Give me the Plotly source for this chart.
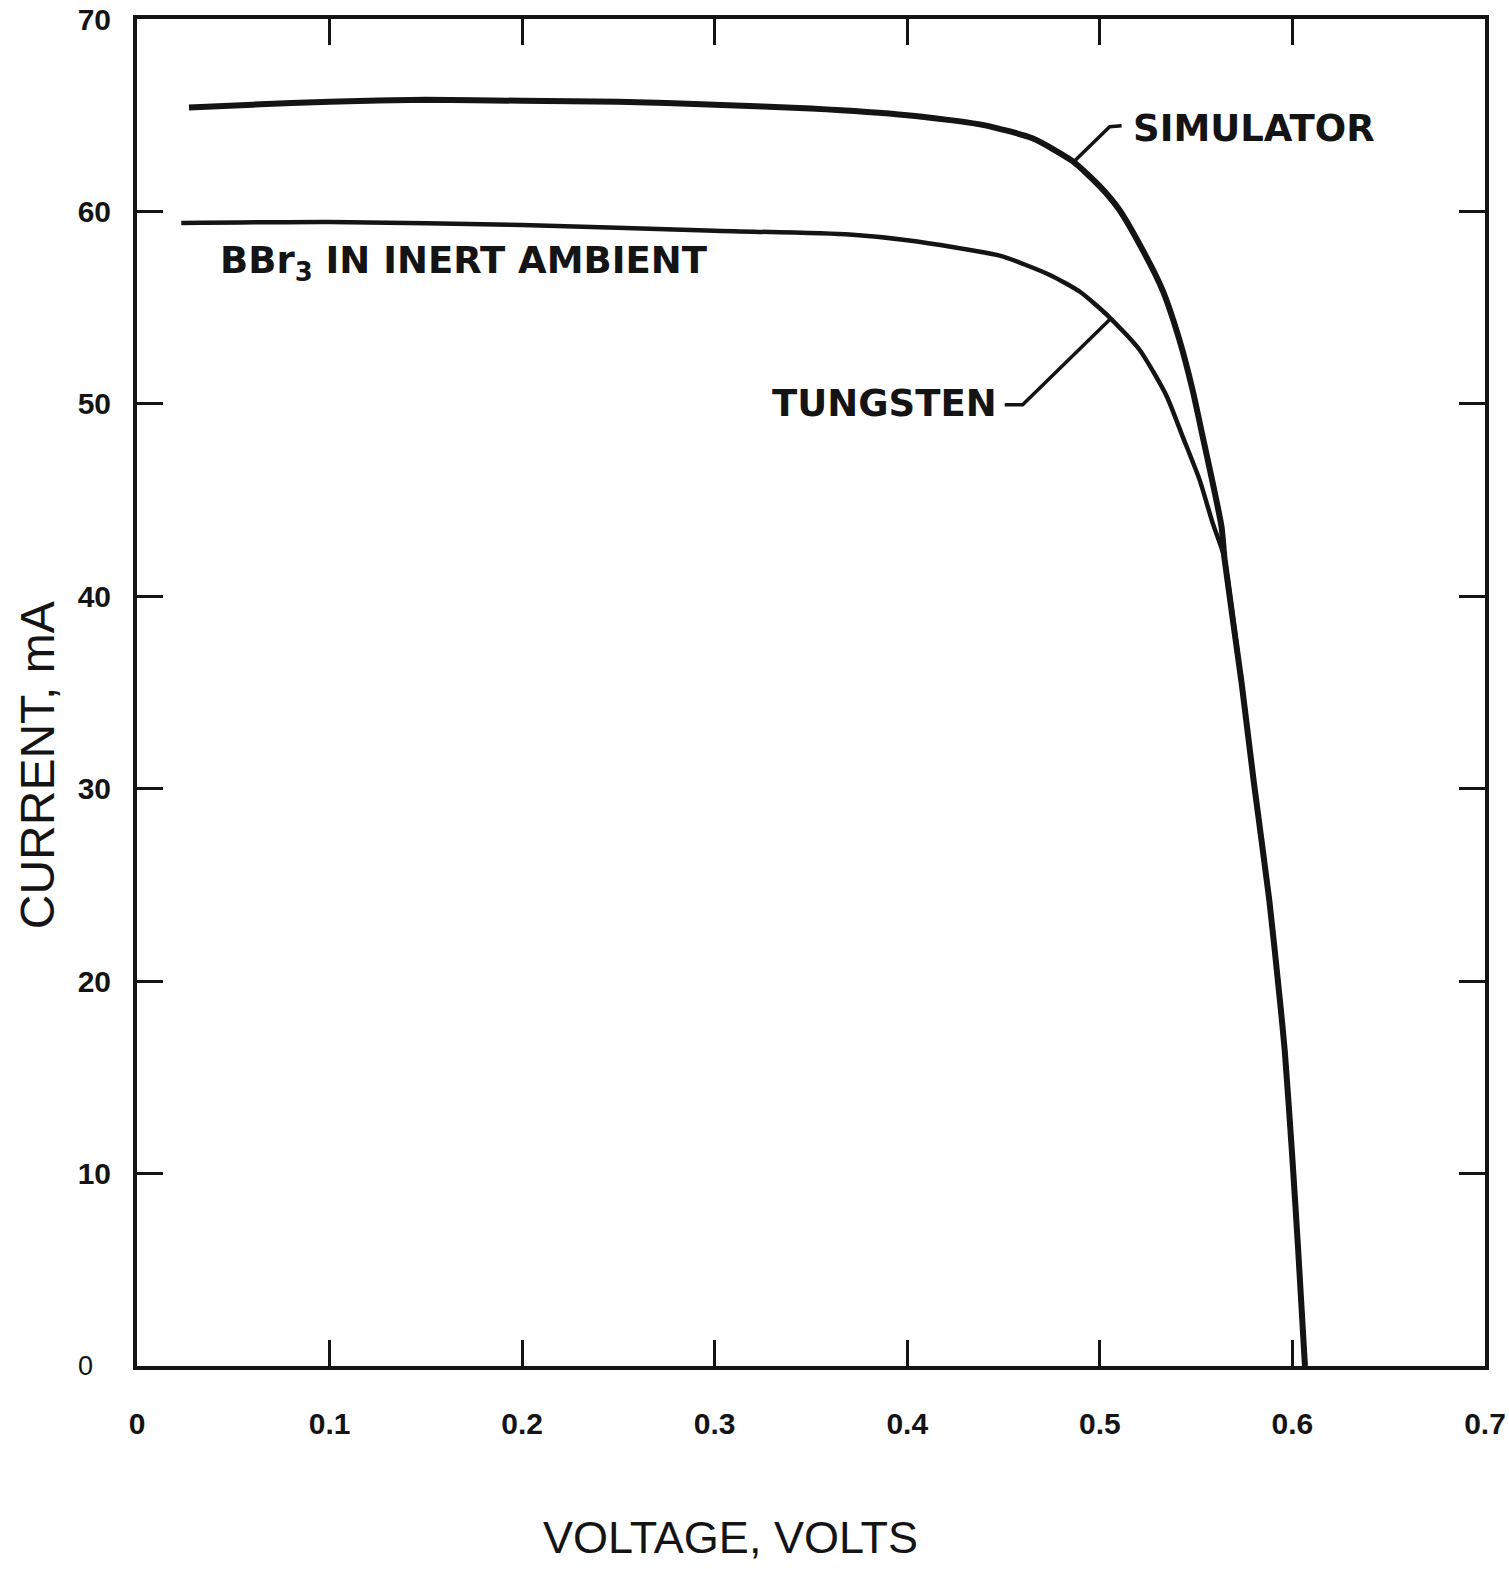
import plotly.graph_objects as go

# ---- data ----
sim_v = [0.027, 0.06, 0.1, 0.15, 0.2, 0.25, 0.3, 0.35, 0.4, 0.439, 0.465, 0.486, 0.5, 0.51,
         0.5222, 0.5326, 0.5414, 0.5482, 0.5534, 0.5586, 0.5632, 0.5648]
sim_i = [65.4, 65.55, 65.7, 65.8, 65.75, 65.7, 65.55, 65.35, 65.0, 64.5, 63.8, 62.6, 61.3, 60.1,
         58.0, 55.9, 53.3, 50.7, 48.3, 45.9, 43.6, 41.9]

tun_v = [0.023, 0.1, 0.2, 0.3, 0.37, 0.4, 0.448, 0.474, 0.49, 0.505, 0.5207, 0.5347, 0.543,
         0.5518, 0.5586, 0.5632, 0.5648]
tun_i = [59.4, 59.45, 59.3, 59.0, 58.8, 58.5, 57.7, 56.7, 55.8, 54.5, 52.8, 50.4, 48.3,
         46.05, 43.8, 42.5, 41.9]

# common lower part where both curves coincide
tail_v = [0.5736, 0.580, 0.588, 0.5935, 0.596, 0.5997, 0.603, 0.6065]
tail_i = [35.5, 30.3, 24.2, 19.0, 16.4, 11.2, 6.0, 0.0]

x_ticks = [0, 0.1, 0.2, 0.3, 0.4, 0.5, 0.6, 0.7]
x_labels = ["0", "0.1", "0.2", "0.3", "0.4", "0.5", "0.6", "0.7"]
y_ticks = [10, 20, 30, 40, 50, 60, 70]
y_labels = ["10", "20", "30", "40", "50", "60", "70"]

# leader lines (annotation pointers), in data units
sim_leader_v = [0.4859, 0.5051, 0.5113]
sim_leader_i = [62.53, 64.40, 64.45]
tun_leader_v = [0.5061, 0.4599, 0.4506]
tun_leader_i = [54.47, 49.95, 49.95]

INK = "#141414"
FAM = "Liberation Sans, Arial, sans-serif"
LBL = dict(family="DejaVu Sans, sans-serif", size=37, color=INK, weight="bold")
TICKF = dict(family=FAM, size=30, color=INK, weight="bold")

fig = go.Figure()
fig.add_trace(go.Scatter(x=sim_v + tail_v, y=sim_i + tail_i, mode="lines", name="SIMULATOR",
                         line=dict(color=INK, width=6, shape="spline", smoothing=0.6)))
fig.add_trace(go.Scatter(x=tun_v + tail_v, y=tun_i + tail_i, mode="lines", name="TUNGSTEN",
                         line=dict(color=INK, width=4.5, shape="spline", smoothing=0.6)))
fig.add_trace(go.Scatter(x=sim_leader_v, y=sim_leader_i, mode="lines", showlegend=False,
                         hoverinfo="skip", line=dict(color=INK, width=3.5)))
fig.add_trace(go.Scatter(x=tun_leader_v, y=tun_leader_i, mode="lines", showlegend=False,
                         hoverinfo="skip", line=dict(color=INK, width=3.5)))

fig.add_annotation(x=0.516, y=64.29, xref="x", yref="y", text="SIMULATOR", showarrow=False,
                   xanchor="left", yanchor="middle", font=LBL)
fig.add_annotation(x=0.4475, y=50.0, xref="x", yref="y", text="TUNGSTEN", showarrow=False,
                   xanchor="right", yanchor="middle", font=LBL)
fig.add_annotation(x=0.042, y=57.3, xref="x", yref="y", text="BBr<sub>3</sub> IN INERT AMBIENT",
                   showarrow=False, xanchor="left", yanchor="middle", font=LBL)
# y-axis zero label (drawn offset like the original)
fig.add_annotation(x=0, y=0, xref="paper", yref="y", text="0", showarrow=False,
                   xanchor="center", yanchor="middle", xshift=-52,
                   font=dict(family=FAM, size=27, color=INK))

# axis titles (placed off-centre as in the original)
fig.add_annotation(x=0.44, y=-0.127, xref="paper", yref="paper", text="VOLTAGE, VOLTS",
                   showarrow=False, xanchor="center", yanchor="middle",
                   font=dict(family=FAM, size=45, color=INK))
fig.add_annotation(x=0, y=0.446, xref="paper", yref="paper", text="CURRENT, mA",
                   showarrow=False, xanchor="center", yanchor="middle", textangle=-90,
                   xshift=-100, font=dict(family=FAM, size=48, color=INK))

axis_common = dict(showline=True, linewidth=4, linecolor=INK, mirror="ticks",
                   ticks="inside", ticklen=26, tickwidth=3, tickcolor=INK,
                   showgrid=False, zeroline=False)

fig.update_xaxes(range=[0, 0.7], tickvals=x_ticks, ticktext=x_labels,
                 ticklabelstandoff=28, tickfont=TICKF, **axis_common)
fig.update_yaxes(range=[0, 70], tickvals=y_ticks, ticktext=y_labels,
                 ticklabelstandoff=16, tickfont=TICKF, **axis_common)

fig.update_layout(width=1509, height=1569, showlegend=False,
                  margin=dict(l=137, r=24, t=19, b=203, autoexpand=False),
                  paper_bgcolor="white", plot_bgcolor="white")

fig.write_html("out.html")
